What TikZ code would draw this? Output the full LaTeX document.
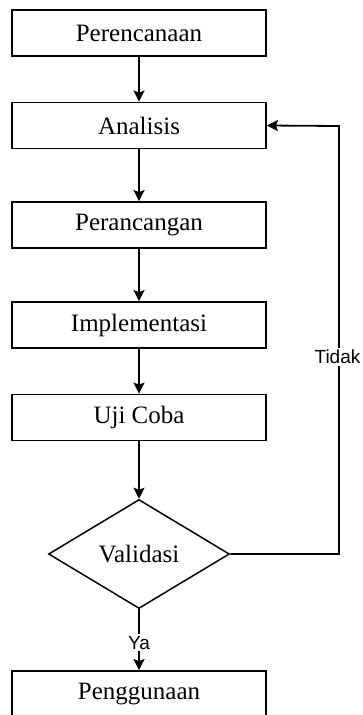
\documentclass[tikz,border=0pt]{standalone}
\usepackage{fontspec}
\setmainfont{Liberation Serif}
\newfontfamily\labelfont{Liberation Sans}
\usetikzlibrary{arrows.meta,shapes.geometric}
\begin{document}
\begin{tikzpicture}[x=1pt,y=-1pt,
  stepbox/.style={draw,line width=1.8pt,minimum width=254pt,minimum height=46pt,inner sep=0pt,font=\fontsize{25}{29}\selectfont},
  decision/.style={draw,diamond,line width=1.5pt,minimum width=181pt,minimum height=109pt,aspect=1.66,inner sep=0pt,font=\fontsize{25}{29}\selectfont},
  conn/.style={line width=1.8pt,-{Stealth[length=11pt,width=11pt,inset=2pt]}},
  lbl/.style={fill=white,inner xsep=0.3pt,inner ysep=2pt,font=\labelfont\fontsize{19}{23}\selectfont}]
\useasboundingbox[fill=white] (0,0) rectangle (362,715);
\node[stepbox] (p1) at (139,33) {Perencanaan};
\node[stepbox] (p2) at (139,125.5) {Analisis};
\node[stepbox] (p3) at (139,225) {Perancangan};
\node[stepbox] (p4) at (139,325) {Implementasi};
\node[stepbox] (p5) at (139,417.5) {Uji Coba};
\node[decision] (v) at (139,554) {Validasi};
\node[stepbox] (p6) at (139,694) {Penggunaan};
\coordinate (c1) at (339,554);
\coordinate (c2) at (339,126);
\draw[conn] (p1) -- (p2);
\draw[conn] (p2) -- (p3);
\draw[conn] (p3) -- (p4);
\draw[conn] (p4) -- (p5);
\draw[conn] (p5) -- (v);
\draw[conn] (v) -- node[lbl,pos=0.55] {Ya} (p6);
\draw[conn] (v.east) -- (c1) -- node[lbl,pos=0.46,xshift=-1.5pt] {Tidak} (c2) -- (p2.east);
\end{tikzpicture}
\end{document}
